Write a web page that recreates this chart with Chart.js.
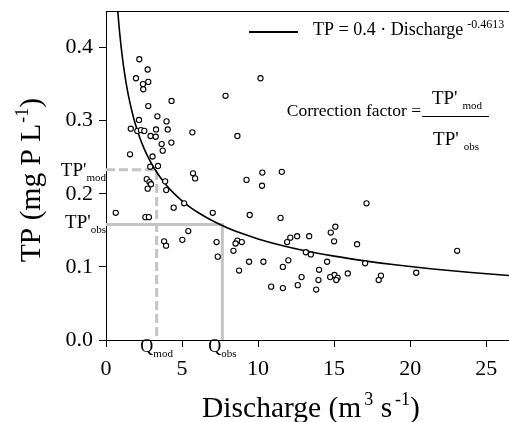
<!DOCTYPE html>
<html><head><meta charset="utf-8">
<script src="https://cdn.jsdelivr.net/npm/chart.js@4"></script>
<style>html,body{margin:0;padding:0;background:#fff}#wrap{width:509px;height:422px;position:relative}</style>
</head><body><div id="wrap"><canvas id="c"></canvas></div>
<script>
const discharge = [2.19,2.74,1.97,2.43,2.78,2.45,4.31,7.86,10.16,2.78,2.17,3.38,3.98,1.63,2.06,2.30,2.52,3.29,4.06,2.93,3.27,5.68,8.64,3.66,4.30,1.58,3.73,3.06,2.91,3.42,2.68,2.86,2.96,2.74,3.89,3.96,5.72,5.86,9.24,10.28,11.56,10.26,4.45,5.14,0.64,2.59,2.82,7.02,9.45,11.48,5.41,3.82,3.95,5.02,7.27,7.35,8.64,8.52,8.93,8.38,9.41,8.75,10.35,10.86,11.63,12.12,11.91,11.99,11.63,12.57,13.36,13.14,13.47,15.08,14.78,15.00,16.51,17.13,17.04,14.54,14.01,15.90,15.02,15.23,15.14,14.74,12.86,13.97,12.61,13.82,18.08,17.93,20.40,23.09];
const tp = [0.384,0.370,0.358,0.350,0.353,0.343,0.327,0.334,0.358,0.320,0.301,0.306,0.299,0.289,0.286,0.287,0.286,0.288,0.288,0.279,0.278,0.284,0.279,0.268,0.270,0.254,0.259,0.251,0.237,0.238,0.220,0.216,0.213,0.207,0.217,0.205,0.228,0.221,0.219,0.229,0.230,0.211,0.181,0.187,0.174,0.168,0.168,0.174,0.171,0.167,0.149,0.135,0.129,0.137,0.134,0.114,0.136,0.132,0.134,0.122,0.107,0.095,0.107,0.073,0.071,0.140,0.134,0.109,0.100,0.142,0.142,0.120,0.117,0.155,0.147,0.135,0.131,0.187,0.105,0.107,0.096,0.091,0.089,0.085,0.082,0.086,0.086,0.082,0.075,0.069,0.088,0.082,0.092,0.122];
// Fitted power model shown in the legend: TP = 0.4 * Discharge^-0.4613
const fitCoef = 0.4;
const fitExp = -0.4613;
const curveX = [0.7,0.75,0.8,0.85,0.9,1,1.1,1.2,1.35,1.5,1.7,1.9,2.2,2.5,2.8,3.2,3.6,4,4.5,5,5.5,6,7,8,9,10,11.5,13,15,17,19,21.5,24,26.5];
// Reference (mod / obs) guide values
const qMod = 3.33, tpMod = 0.233;
const qObs = 7.65, tpObs = 0.158;
// Tick labels
const xTicks = [0,5,10,15,20,25];
const yTicks = [0,0.1,0.2,0.3,0.4];

const FONT = 'Liberation Serif';
const GRAY = '#c4c4c4';

const pts = discharge.map((q,i)=>({x:q,y:tp[i]}));
const curve = curveX.map(q=>({x:q,y:fitCoef*Math.pow(q,fitExp)}));
const modLine = [{x:0,y:tpMod},{x:qMod,y:tpMod},{x:qMod,y:0}];
const obsLine = [{x:0,y:tpObs},{x:qObs,y:tpObs},{x:qObs,y:0}];

function rich(ctx, parts, x, y, align){
  let w=0;
  parts.forEach(p=>{ctx.font=p.s+'px "'+FONT+'"'; p.w=ctx.measureText(p.t).width+(p.g||0); w+=p.w;});
  let cx = align==='center'? x-w/2 : align==='right'? x-w : x;
  ctx.textAlign='left'; ctx.textBaseline='alphabetic';
  parts.forEach(p=>{ctx.font=p.s+'px "'+FONT+'"'; ctx.fillText(p.t,cx+(p.g||0),y+(p.dy||0)); cx+=p.w;});
  return w;
}

const deco = {
  id:'deco',
  afterDraw(chart){
    const ctx=chart.ctx, a=chart.chartArea, xs=chart.scales.x, ys=chart.scales.y;
    ctx.save();
    // top frame line
    ctx.strokeStyle='#000'; ctx.lineWidth=1;
    ctx.beginPath(); ctx.moveTo(a.left,a.top+0.5); ctx.lineTo(a.right,a.top+0.5); ctx.stroke();
    ctx.fillStyle='#000';
    // axis titles
    rich(ctx,[{t:'Discharge (m',s:29.5},{t:'3',s:18,dy:-12,g:3},{t:' s',s:29.5},{t:'-1',s:18,dy:-12,g:3},{t:')',s:29.5}],311,417,'center');
    ctx.save(); ctx.translate(40,180); ctx.rotate(-Math.PI/2);
    rich(ctx,[{t:'TP (mg P L',s:29.5},{t:'-1',s:18,dy:-12,g:1},{t:')',s:29.5}],0,0,'center');
    ctx.restore();
    // legend
    ctx.lineWidth=2; ctx.beginPath(); ctx.moveTo(249,32); ctx.lineTo(298,32); ctx.stroke();
    rich(ctx,[{t:'TP = 0.4 \u00b7 Discharge',s:18},{t:'-0.4613',s:12,dy:-7,g:4}],313,35,'left');
    // correction factor
    rich(ctx,[{t:'Correction factor =',s:17.5}],421,116,'right');
    ctx.lineWidth=1; ctx.beginPath(); ctx.moveTo(422,116.5); ctx.lineTo(489,116.5); ctx.stroke();
    rich(ctx,[{t:"TP'",s:19},{t:'mod',s:11,dy:5,g:5}],457,104,'center');
    rich(ctx,[{t:"TP'",s:19},{t:'obs',s:11,dy:5,g:5}],456,145,'center');
    // guide labels
    rich(ctx,[{t:"TP'",s:19},{t:'mod',s:11,dy:5}],a.left,ys.getPixelForValue(tpMod)+6,'right');
    rich(ctx,[{t:"TP'",s:19},{t:'obs',s:11,dy:5}],a.left,ys.getPixelForValue(tpObs)+4,'right');
    rich(ctx,[{t:'Q',s:18},{t:'mod',s:11,dy:5}],xs.getPixelForValue(qMod),a.bottom+12,'center');
    rich(ctx,[{t:'Q',s:18},{t:'obs',s:11,dy:5}],xs.getPixelForValue(qObs),a.bottom+12,'center');
    ctx.restore();
  }
};

const axisCommon = {
  grid:{display:true,drawOnChartArea:false,drawTicks:true,tickLength:7,color:'#000',lineWidth:1},
  border:{display:true,color:'#000',width:1},
  title:{display:false}
};
function noPad(s){s.paddingTop=0;s.paddingBottom=0;s.paddingLeft=0;s.paddingRight=0;}

new Chart(document.getElementById('c'),{
  type:'scatter',
  data:{datasets:[
    {data:pts,pointRadius:2.6,pointBorderWidth:1.1,pointBorderColor:'#000',pointBackgroundColor:'#fff',showLine:false},
    {data:curve,showLine:true,borderColor:'#000',borderWidth:1.6,pointRadius:0,cubicInterpolationMode:'monotone'},
    {data:modLine,showLine:true,borderColor:GRAY,borderWidth:3,borderDash:[9,4],pointRadius:0,tension:0},
    {data:obsLine,showLine:true,borderColor:GRAY,borderWidth:3,pointRadius:0,tension:0}
  ]},
  options:{
    responsive:true,maintainAspectRatio:false,animation:false,
    layout:{autoPadding:false,padding:{top:11,right:0,left:0,bottom:0}},
    plugins:{legend:{display:false},tooltip:{enabled:false}},
    scales:{
      x:Object.assign({type:'linear',min:0,max:26.5,
        afterBuildTicks:s=>{s.ticks=xTicks.map(v=>({value:v}));},
        afterFit:s=>{s.height=82;noPad(s);},
        ticks:{font:{family:FONT,size:22},color:'#000',padding:9,maxRotation:0,autoSkip:false,callback:v=>String(v)}},axisCommon),
      y:Object.assign({type:'linear',min:0,max:0.45,
        afterBuildTicks:s=>{s.ticks=yTicks.map(v=>({value:v}));},
        afterFit:s=>{s.width=106;noPad(s);},
        ticks:{font:{family:FONT,size:22},color:'#000',padding:6,autoSkip:false,callback:v=>v.toFixed(1)}},axisCommon)
    }
  },
  plugins:[deco]
});
</script></body></html>
